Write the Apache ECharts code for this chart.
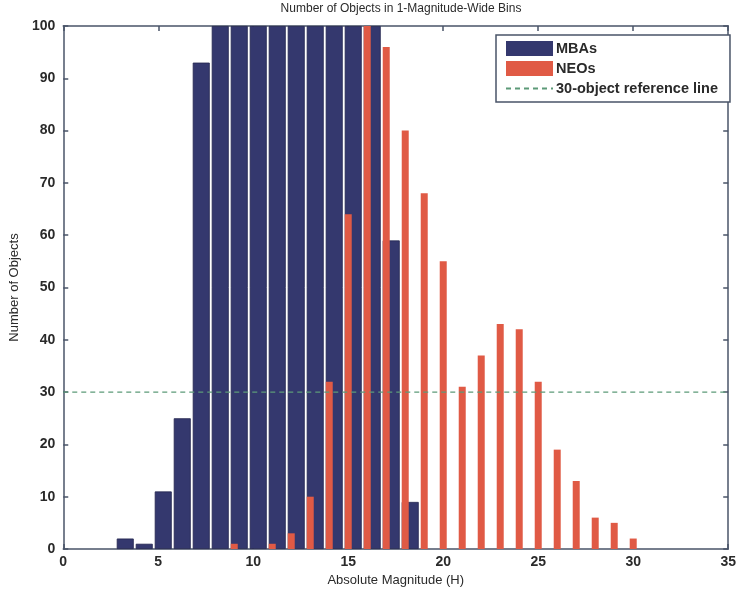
<!DOCTYPE html>
<html><head><meta charset="utf-8">
<script src="https://cdn.jsdelivr.net/npm/echarts@6/dist/echarts.min.js"></script>
<style>html,body{margin:0;padding:0;background:#fff}#c{width:739px;height:594px}</style>
</head><body><div id="c"></div>
<script>
// Data
const mbaH = [3,4,5,6,7,8,9,10,11,12,13,14,15,16,17,18];
const mbaCounts = [2,1,11,25,93,100,100,100,100,100,100,100,100,100,59,9];
const neoH = [9,11,12,13,14,15,16,17,18,19,20,21,22,23,24,25,26,27,28,29,30];
const neoCounts = [1,1,3,10,32,64,100,96,80,68,55,31,37,43,42,32,19,13,6,5,2];
const refLevel = 30;
const xRange = [0, 35];
const xTicks = [0,5,10,15,20,25,30,35];
const yTicks = [0,10,20,30,40,50,60,70,80,90,100];

const axisCol = '#4a5468';
const txtCol = '#2a2a2a';
const font = 'Liberation Sans, Arial, sans-serif';

const chart = echarts.init(document.getElementById('c'), null, {renderer:'canvas'});
const baseX = {
  type:'value', min:xRange[0], max:xRange[1], interval:5,
  axisLine:{show:true, onZero:false, lineStyle:{color:axisCol, width:1.5}},
  axisTick:{show:true, inside:true, length:5, lineStyle:{color:axisCol, width:1.5}},
  splitLine:{show:false}
};
const baseY = {
  type:'value', min:0, max:100, interval:10,
  axisLine:{show:true, onZero:false, lineStyle:{color:axisCol, width:1.5}},
  axisTick:{show:true, inside:true, length:5, lineStyle:{color:axisCol, width:1.5}},
  splitLine:{show:false}
};
chart.setOption({
  animation:false,
  backgroundColor:'#fff',
  title:{text:'Number of Objects in 1-Magnitude-Wide Bins', left:396, textAlign:'center', top:0, padding:[3,5],
    textStyle:{fontFamily:font, fontSize:12, fontWeight:'normal', color:txtCol}},
  grid:{left:63, right:9, top:26, bottom:45},
  legend:{
    orient:'vertical', left:496, top:35, width:220,
    padding:[6,12,6,9], itemGap:5,
    itemWidth:47, itemHeight:15,
    backgroundColor:'#fff', borderColor:axisCol, borderWidth:1.5, borderRadius:0,
    textStyle:{fontFamily:font, fontSize:14.5, fontWeight:'bold', color:txtCol, padding:[0,0,0,-2]},
    data:[
      {name:'MBAs', icon:'rect', itemStyle:{borderWidth:0}},
      {name:'NEOs', icon:'rect'},
      {name:'30-object reference line', itemStyle:{opacity:0}}
    ]
  },
  xAxis:[
    Object.assign({}, baseX, {position:'bottom', name:'Absolute Magnitude (H)', nameLocation:'middle', nameGap:22,
      nameTextStyle:{fontFamily:font, fontSize:13, color:txtCol},
      axisLabel:{fontFamily:font, fontSize:14, fontWeight:'bold', color:txtCol, margin:6}}),
    Object.assign({}, baseX, {position:'top', axisLabel:{show:false}})
  ],
  yAxis:[
    Object.assign({}, baseY, {position:'left', name:'Number of Objects', nameLocation:'middle', nameGap:36,
      nameTextStyle:{fontFamily:font, fontSize:13, color:txtCol},
      axisLabel:{fontFamily:font, fontSize:14, fontWeight:'bold', color:txtCol, margin:8}}),
    Object.assign({}, baseY, {position:'right', axisLabel:{show:false}})
  ],
  series:[
    {name:'MBAs', type:'bar', xAxisIndex:0, yAxisIndex:0, barWidth:17, barGap:'-100%',
      itemStyle:{color:'#34386e', borderColor:'#23264f', borderWidth:0.8},
      data: mbaH.map((h,i)=>[h, mbaCounts[i]])},
    {name:'NEOs', type:'bar', xAxisIndex:0, yAxisIndex:0, barWidth:7, barGap:'-100%',
      itemStyle:{color:'#e05a45'},
      data: neoH.map((h,i)=>[h, neoCounts[i]])},
    {name:'30-object reference line', type:'line', xAxisIndex:0, yAxisIndex:0, symbol:'none', z:5,
      lineStyle:{color:'#5c9a78', width:1.3, type:[5,4]},
      itemStyle:{color:'#5c9a78'},
      data:[[xRange[0], refLevel],[xRange[1], refLevel]]}
  ]
});
</script>
</body></html>
